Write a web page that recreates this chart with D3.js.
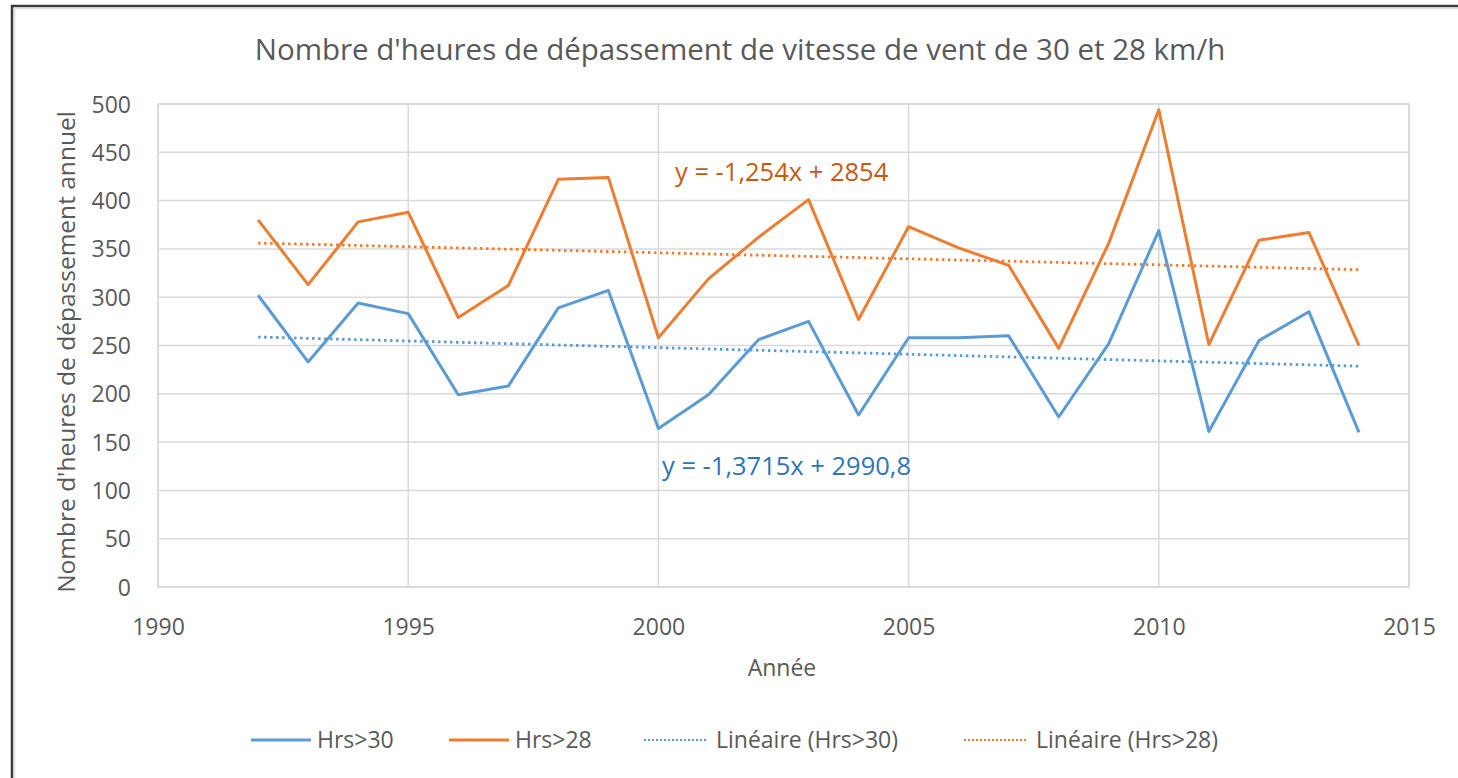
<!DOCTYPE html>
<html>
<head>
<meta charset="utf-8">
<script src="https://cdn.jsdelivr.net/npm/d3@7"></script>
<style>
  body { margin: 0; background: #fff; }
  svg { display: block; font-family: "Open Sans", "Noto Sans", sans-serif; }
</style>
</head>
<body>
<svg id="chart" width="1458" height="778"></svg>
<script>
// -------- data --------
const years = [1992, 1993, 1994, 1995, 1996, 1997, 1998, 1999, 2000, 2001, 2002,
  2003, 2004, 2005, 2006, 2007, 2008, 2009, 2010, 2011, 2012, 2013, 2014];
const hrs30 = [302, 233, 294, 283, 199, 208, 289, 307, 164, 199, 256,
  275, 178, 258, 258, 260, 176, 252, 369, 161, 255, 285, 160];
const hrs28 = [380, 313, 378, 388, 279, 312, 422, 424, 258, 319, 362,
  401, 277, 373, 351, 333, 247, 356, 494, 251, 359, 367, 250];
// trend line coefficients (slope, intercept) as shown on the chart
const trend30 = [-1.3715, 2990.8];
const trend28 = [-1.254, 2854];
const xTicks = [1990, 1995, 2000, 2005, 2010, 2015];
const yTicks = [0, 50, 100, 150, 200, 250, 300, 350, 400, 450, 500];

const blue = "#5b9bd5",
  orange = "#ed7d31",
  textGrey = "#595959",
  gridGrey = "#d9d9d9";

const svg = d3.select("#chart");

// outer frame (dark border top + left)
svg.append("path")
  .attr("d", "M12,778 L12,6 L1458,6")
  .attr("fill", "none")
  .attr("stroke", "#3a3a3a")
  .attr("stroke-width", 2.5);
svg.append("path")
  .attr("d", "M14.5,778 L14.5,8.5 L1458,8.5")
  .attr("fill", "none")
  .attr("stroke", "#e0e0e0")
  .attr("stroke-width", 1.5);

// plot area
const plotL = 158, plotR = 1409, plotT = 104, plotB = 587;

const x = d3.scaleLinear().domain([1990, 2015]).range([plotL, plotR]);
const y = d3.scaleLinear().domain([0, 500]).range([plotB, plotT]);

// title
svg.append("text")
  .attr("x", 740)
  .attr("y", 60)
  .attr("text-anchor", "middle")
  .attr("fill", textGrey)
  .style("font-size", "29.5px")
  .text("Nombre d'heures de dépassement de vitesse de vent de 30 et 28 km/h");

// grid
const grid = svg.append("g");
grid.selectAll("line.h")
  .data(yTicks)
  .enter()
  .append("line")
  .attr("class", "h")
  .attr("x1", plotL)
  .attr("x2", plotR)
  .attr("y1", d => y(d))
  .attr("y2", d => y(d))
  .attr("stroke", gridGrey)
  .attr("stroke-width", 1.5);
grid.selectAll("line.v")
  .data(xTicks)
  .enter()
  .append("line")
  .attr("class", "v")
  .attr("x1", d => x(d))
  .attr("x2", d => x(d))
  .attr("y1", plotT)
  .attr("y2", plotB)
  .attr("stroke", gridGrey)
  .attr("stroke-width", 1.5);
// plot border
svg.append("rect")
  .attr("x", plotL)
  .attr("y", plotT)
  .attr("width", plotR - plotL)
  .attr("height", plotB - plotT)
  .attr("fill", "none")
  .attr("stroke", gridGrey)
  .attr("stroke-width", 1.5);

// axes (labels only, Excel style)
const yAxis = svg.append("g")
  .attr("transform", `translate(${plotL - 27},0)`)
  .call(d3.axisLeft(y).tickValues(yTicks).tickSize(0).tickPadding(0));
const xAxis = svg.append("g")
  .attr("transform", `translate(0,${plotB + 40})`)
  .call(d3.axisBottom(x).tickValues(xTicks).tickFormat(d3.format("d")).tickSize(0).tickPadding(0));
[yAxis, xAxis].forEach(a => {
  a.select(".domain").remove();
  a.selectAll("text")
    .attr("fill", textGrey)
    .attr("dy", "0.35em")
    .style("font-size", "23px")
    .style("font-family", "'Open Sans', sans-serif");
});

// axis titles
svg.append("text")
  .attr("x", 782)
  .attr("y", 668)
  .attr("dy", "0.35em")
  .attr("text-anchor", "middle")
  .attr("fill", textGrey)
  .style("font-size", "23px")
  .text("Année");
svg.append("text")
  .attr("transform", "translate(66,352) rotate(-90)")
  .attr("dy", "0.35em")
  .attr("text-anchor", "middle")
  .attr("fill", textGrey)
  .style("font-size", "24.5px")
  .text("Nombre d'heures de dépassement annuel");

// series lines
const line = d3.line()
  .x(d => x(d[0]))
  .y(d => y(d[1]));

const series = [
  { values: hrs30, colour: blue },
  { values: hrs28, colour: orange }
];

// trend lines first (drawn under the data lines)
const trends = [
  { coef: trend30, colour: blue },
  { coef: trend28, colour: orange }
];
const firstYear = years[0], lastYear = years[years.length - 1];
trends.forEach(t => {
  const pts = [firstYear, lastYear].map(yr => [yr, t.coef[0] * yr + t.coef[1]]);
  svg.append("path")
    .datum(pts)
    .attr("d", line)
    .attr("fill", "none")
    .attr("stroke", t.colour)
    .attr("stroke-width", 2.8)
    .attr("stroke-dasharray", "2.5,3.5");
});

series.forEach(s => {
  svg.append("path")
    .datum(years.map((yr, i) => [yr, s.values[i]]))
    .attr("d", line)
    .attr("fill", "none")
    .attr("stroke", s.colour)
    .attr("stroke-width", 3)
    .attr("stroke-linejoin", "round");
});

// equation labels
svg.append("text")
  .attr("x", 675)
  .attr("y", 181)
  .attr("fill", "#c55a11")
  .style("font-size", "25.5px")
  .text("y = -1,254x + 2854");
svg.append("text")
  .attr("x", 662)
  .attr("y", 475)
  .attr("fill", "#2e75b6")
  .style("font-size", "25.5px")
  .text("y = -1,3715x + 2990,8");

// legend
const legendItems = [
  { label: "Hrs>30", colour: blue, dash: null, x: 251 },
  { label: "Hrs>28", colour: orange, dash: null, x: 449 },
  { label: "Linéaire (Hrs>30)", colour: blue, dash: "2,2", x: 644 },
  { label: "Linéaire (Hrs>28)", colour: orange, dash: "2,2", x: 964 }
];
const legend = svg.append("g").attr("id", "legend");
const entry = legend.selectAll("g")
  .data(legendItems)
  .enter()
  .append("g")
  .attr("transform", d => `translate(${d.x},740)`);
entry.append("line")
  .attr("x1", 0)
  .attr("x2", d => d.dash ? 64 : 60)
  .attr("stroke", d => d.colour)
  .attr("stroke-width", d => d.dash ? 2 : 3)
  .attr("stroke-dasharray", d => d.dash);
entry.append("text")
  .attr("x", d => d.dash ? 72 : 66)
  .attr("dy", "0.35em")
  .attr("fill", textGrey)
  .style("font-size", "23px")
  .text(d => d.label);
</script>
</body>
</html>
